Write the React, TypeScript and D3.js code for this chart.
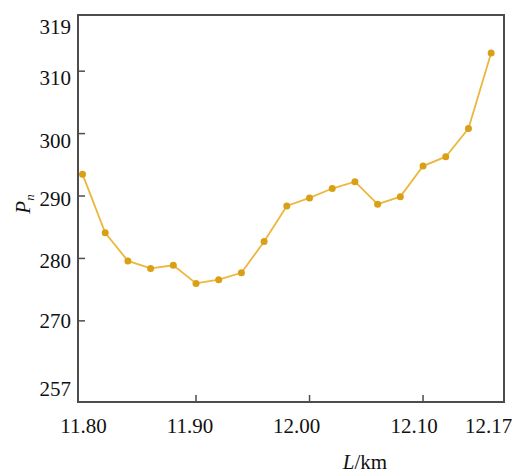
import React from "react";
import * as d3 from "d3";

const lengthsKm = [11.80, 11.82, 11.84, 11.86, 11.88, 11.90, 11.92, 11.94, 11.96, 11.98, 12.00, 12.02, 12.04, 12.06, 12.08, 12.10, 12.12, 12.14, 12.16];
const pnValues = [293.5, 284.1, 279.6, 278.4, 278.9, 276.0, 276.6, 277.7, 282.7, 288.4, 289.7, 291.2, 292.3, 288.7, 289.9, 294.8, 296.3, 300.8, 312.9];

const xTickValues = [11.80, 11.90, 12.00, 12.10, 12.17];
const xTickLabels = ["11.80", "11.90", "12.00", "12.10", "12.17"];
const xLabelShift = [1, -6, -13, -9, -14];
const yTickValues = [319, 310, 300, 290, 280, 270, 257];
const yTickLabels = ["319", "310", "300", "290", "280", "270", "257"];
const yLabelShift = [11.5, 6.5, 7, 2.5, 3, 0, -13];
const yTickMarks = [310, 300, 290, 280, 270];
const xTickMarks = [11.90, 12.00, 12.10];

const W = 514;
const H = 476;
const frame = { left: 78, top: 15, right: 504, bottom: 402 };
const FONT = "'Liberation Serif', 'Times New Roman', serif";

export default function App() {
  const x = d3.scaleLinear().domain([11.80, 12.17]).range([82.5, 502.5]);
  const y = d3.scaleLinear().domain([257, 319]).range([frame.bottom, frame.top]);
  const line = d3
    .line<number>()
    .x((_, i) => x(lengthsKm[i]))
    .y((v) => y(v));

  return (
    <div style={{ position: "absolute", left: 0, top: 0 }}>
      <svg width={W} height={H} style={{ display: "block", background: "#fff" }} fontFamily={FONT}>
        <rect
          x={frame.left}
          y={frame.top}
          width={frame.right - frame.left}
          height={frame.bottom - frame.top}
          fill="none"
          stroke="#4d4d4d"
          strokeWidth={2}
        />
        {yTickMarks.map((v) => (
          <line key={"yt" + v} x1={frame.left} x2={frame.left + 7} y1={y(v)} y2={y(v)} stroke="#4d4d4d" strokeWidth={1.5} />
        ))}
        {xTickMarks.map((v) => (
          <line key={"xt" + v} x1={x(v)} x2={x(v)} y1={frame.bottom} y2={frame.bottom - 7} stroke="#4d4d4d" strokeWidth={1.5} />
        ))}
        {yTickValues.map((v, i) => (
          <text
            key={"yl" + v}
            x={frame.left - 7}
            y={y(v) + yLabelShift[i]}
            textAnchor="end"
            dominantBaseline="central"
            fontSize={21}
            fill="#111"
          >
            {yTickLabels[i]}
          </text>
        ))}
        {xTickValues.map((v, i) => (
          <text
            key={"xl" + v}
            x={x(v) + xLabelShift[i]}
            y={433}
            textAnchor="middle"
            fontSize={21}
            fill="#111"
          >
            {xTickLabels[i]}
          </text>
        ))}
        <path d={line(pnValues) || ""} fill="none" stroke="#ebb73c" strokeWidth={1.8} />
        {pnValues.map((v, i) => (
          <circle key={"p" + i} cx={x(lengthsKm[i])} cy={y(v)} r={3.5} fill="#d9a016" />
        ))}
        <text x={365} y={469} textAnchor="middle" fontSize={21} fill="#111">
          <tspan fontStyle="italic">L</tspan>
          <tspan>/km</tspan>
        </text>
        <text transform="translate(30,204) rotate(-90)" textAnchor="middle" fontSize={21} fill="#111">
          <tspan fontStyle="italic">P</tspan>
          <tspan fontStyle="italic" fontSize={13} dy={4}>n</tspan>
        </text>
      </svg>
    </div>
  );
}
